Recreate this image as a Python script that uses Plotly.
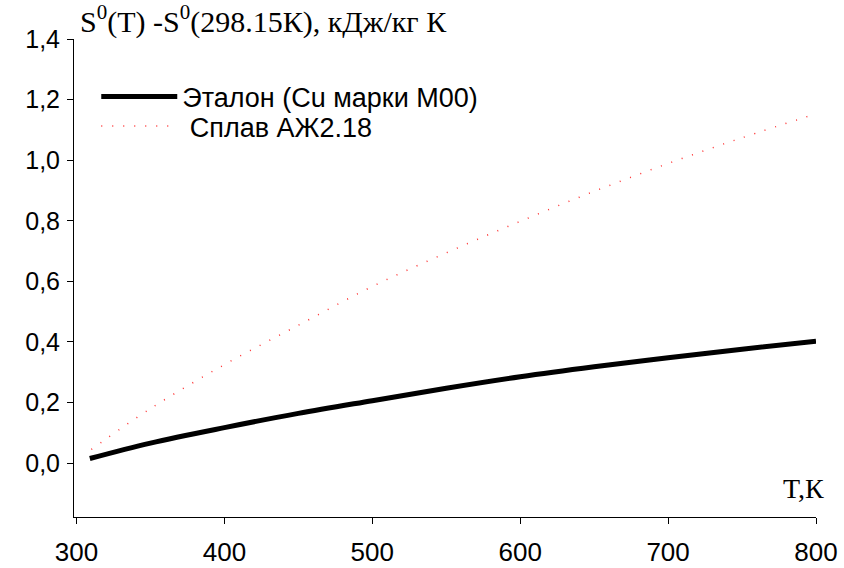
import plotly.graph_objects as go

# Data
T_ref = [309, 350, 400, 450, 500, 550, 600, 650, 700, 750, 800]
S_ref = [0.015, 0.066, 0.117, 0.164, 0.206, 0.247, 0.285, 0.318, 0.348, 0.376, 0.402]

T_alloy = [310, 350, 400, 450, 500, 550, 600, 650, 700, 750, 800]
S_alloy = [0.045, 0.180, 0.325, 0.455, 0.583, 0.694, 0.798, 0.897, 0.989, 1.074, 1.153]

name_ref = "Эталон (Cu марки M00)"
name_alloy = " Сплав АЖ2.18"

y_ticks = [0.0, 0.2, 0.4, 0.6, 0.8, 1.0, 1.2, 1.4]
x_ticks = [300, 400, 500, 600, 700, 800]

fig = go.Figure()
fig.add_trace(go.Scatter(x=T_ref, y=S_ref, mode="lines", name=name_ref, legend="legend",
                         line=dict(color="black", width=5, shape="spline")))
fig.add_trace(go.Scatter(x=T_alloy, y=S_alloy, mode="lines", name=name_alloy, legend="legend2",
                         line=dict(color="#ff3030", width=1.5, dash="1px,10px", shape="spline")))

leg_common = dict(xanchor="left", yanchor="middle", bgcolor="rgba(0,0,0,0)",
                  font=dict(size=27, family="Liberation Sans, Arial"), itemwidth=76)

fig.update_layout(
    width=844, height=568,
    margin=dict(l=74, r=28, t=39, b=51),
    paper_bgcolor="white", plot_bgcolor="white",
    separators=",.",
    font=dict(family="Liberation Sans, Arial", color="black"),
    legend=dict(x=0.03, y=0.879, **leg_common),
    legend2=dict(x=0.03, y=0.817, **leg_common),
    showlegend=True,
)
fig.update_xaxes(range=[298.3, 800], tickvals=x_ticks, showline=True, linecolor="black",
                 linewidth=1, ticks="outside", ticklen=6, tickcolor="black", showgrid=False,
                 zeroline=False, tickfont=dict(size=26), ticklabelstandoff=6, automargin=False)
fig.update_yaxes(range=[-0.178, 1.4], tickvals=y_ticks, tickformat=".1f", showline=True,
                 linecolor="black", linewidth=1, ticks="outside", ticklen=6, tickcolor="black",
                 showgrid=False, zeroline=False, tickfont=dict(size=25), ticklabelstandoff=2,
                 automargin=False)

fig.add_annotation(xref="paper", yref="paper", x=0.005, y=1.0, yshift=20,
                   xanchor="left", yanchor="middle", showarrow=False,
                   text="S<sup>0</sup>(T) -S<sup>0</sup>(298.15К), кДж/кг К",
                   font=dict(family="Liberation Serif, Times New Roman", size=30))
fig.add_annotation(xref="paper", yref="paper", x=1.0, xshift=10, y=0.06,
                   xanchor="right", yanchor="middle", showarrow=False,
                   text="T,К",
                   font=dict(family="Liberation Serif, Times New Roman", size=28))

fig.write_html("out.html")
